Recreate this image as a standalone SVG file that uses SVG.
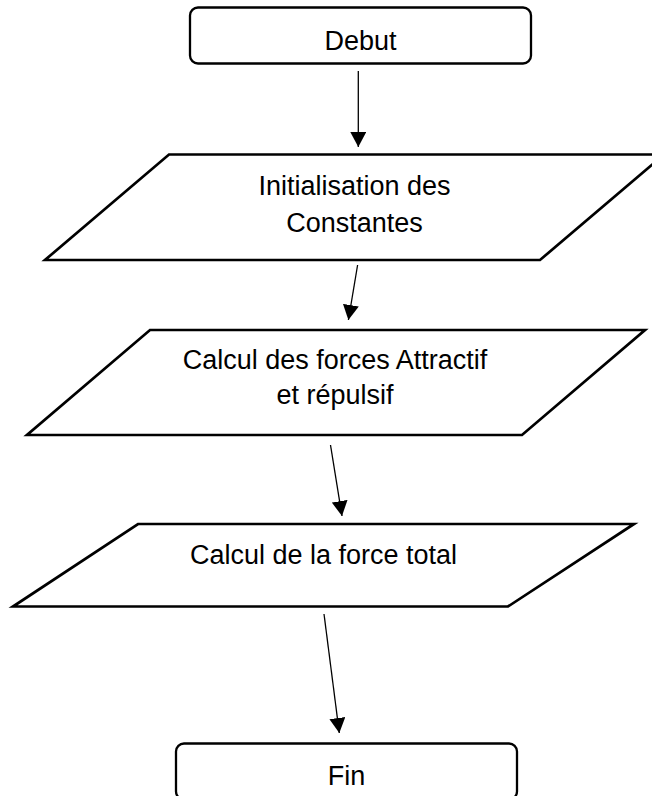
<svg xmlns="http://www.w3.org/2000/svg" width="652" height="796" viewBox="0 0 652 796">
  <style>
    .term { fill: #ffffff; stroke: #000000; stroke-width: 2.3; }
    .io { fill: #ffffff; stroke: #000000; stroke-width: 2.7; stroke-linejoin: miter; }
    .lbl { font-family: "Liberation Sans", Arial, sans-serif; font-size: 27px; fill: #000000; text-anchor: middle; }
    .conn { stroke: #000000; stroke-width: 1.3; fill: none; marker-end: url(#arrow); }
  </style>
  <defs>
    <marker id="arrow" markerUnits="userSpaceOnUse" markerWidth="15" markerHeight="16" refX="15" refY="8" orient="auto" viewBox="0 0 15 16">
      <path d="M0,0 L15,8 L0,16 z" fill="#000000"/>
    </marker>
  </defs>
  <rect width="652" height="796" fill="#ffffff"/>

  <g id="debut">
    <rect class="term" x="190" y="7.5" width="341" height="56" rx="8" ry="8"/>
    <text class="lbl" x="360.5" y="50">Debut</text>
  </g>

  <g id="init">
    <polygon class="io" points="169,154.5 664,154.5 540,260 45,260"/>
    <text class="lbl" x="354.5" y="195">Initialisation des</text>
    <text class="lbl" x="354.5" y="232">Constantes</text>
  </g>

  <g id="calcul-forces">
    <polygon class="io" points="150,330 645,330 522,435 27,435"/>
    <text class="lbl" x="335" y="369">Calcul des forces Attractif</text>
    <text class="lbl" x="335" y="404">et répulsif</text>
  </g>

  <g id="calcul-total">
    <polygon class="io" points="138,524 634,524 508,606.5 13,606.5"/>
    <text class="lbl" x="323.5" y="564">Calcul de la force total</text>
  </g>

  <g id="fin">
    <rect class="term" x="176" y="743.5" width="341" height="56" rx="8" ry="8"/>
    <text class="lbl" x="346.5" y="785">Fin</text>
  </g>

  <g id="connectors">
    <line class="conn" x1="358.3" y1="71" x2="358.3" y2="147"/>
    <line class="conn" x1="357.6" y1="265" x2="348.4" y2="320"/>
    <line class="conn" x1="330.5" y1="445" x2="342" y2="516"/>
    <line class="conn" x1="324" y1="614" x2="339.3" y2="733"/>
  </g>
</svg>
